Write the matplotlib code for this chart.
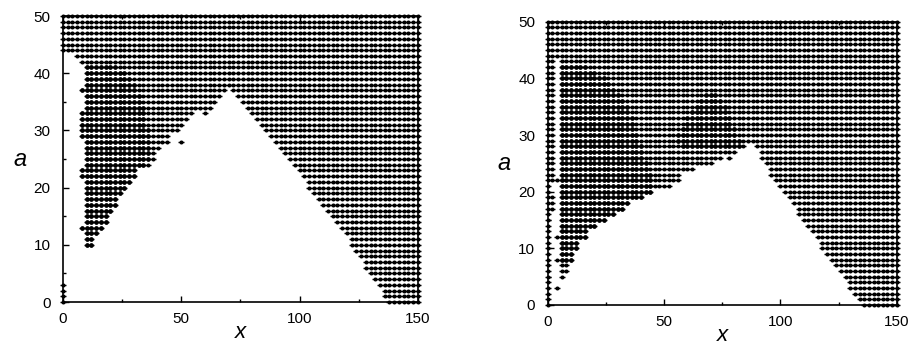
import numpy as np
import matplotlib.pyplot as plt
from matplotlib.ticker import MultipleLocator

plt.rcParams['font.family'] = ['Liberation Sans', 'DejaVu Sans']

X_STEP = 2
X_MAX = 150

# ---------------- left panel (row-by-row read of the filled x-range) ----------------
left_full_a = list(range(44, 51))
left_upper_a = [38, 39, 40, 41, 42, 43]
left_upper_lo = [10, 10, 10, 10, 8, 6]

left_wedge_a = list(range(10, 38))
left_wedge_lo = [10, 10, 10, 8, 10, 10, 10, 10, 10, 10, 10, 10, 8, 8,
                 10, 10, 10, 10, 10, 8, 8, 8, 8, 8, 10, 10, 10, 8]
left_wedge_hi = [12, 12, 14, 16, 18, 18, 20, 22, 22, 24, 26, 28, 30, 30,
                 36, 38, 38, 40, 44, 44, 48, 50, 52, 54, 62, 64, 66, 68]

left_main_a = list(range(0, 38))
left_main_lo = [138, 136, 136, 134, 132, 130, 128, 128, 126, 124, 122, 122, 120,
                118, 116, 114, 112, 110, 108, 106, 104, 104, 102, 100, 98, 96,
                94, 92, 90, 88, 86, 84, 82, 80, 78, 76, 74, 72]

left_extra_x = [0, 0, 0, 0, 50, 60]
left_extra_a = [0, 1, 2, 3, 28, 33]

# darker (overlapping) patch on the left panel
left_dark_a = list(range(10, 42))
left_dark_lo = left_wedge_lo + [10, 10, 10, 10]
left_dark_hi = [12, 12, 14, 16, 18, 18, 20, 22, 22, 24, 26, 28, 30, 30,
                34, 36, 36, 36, 36, 36, 36, 34, 34, 34, 34, 32, 32, 30,
                30, 28, 26, 22]

# ---------------- right panel ----------------
right_full_a = list(range(44, 51))
right_upper_a = list(range(29, 44))
right_upper_lo = 6
right_col0_a = list(range(0, 44))
right_col2_a = [17, 18, 19] + list(range(22, 44))

right_wedge_a = list(range(5, 29))
right_wedge_lo = [6, 6, 6, 4, 6, 6, 6, 4, 6, 6, 6, 6, 6, 6, 6, 6, 6, 4, 6, 6, 6, 6, 6, 6]
right_wedge_hi = [6, 8, 8, 10, 10, 12, 12, 16, 16, 20, 24, 28, 32, 34, 40, 44, 52,
                  56, 56, 62, 70, 74, 80, 84]

right_main_a = list(range(0, 29))
right_main_lo = [136, 134, 132, 130, 130, 128, 126, 124, 122, 120, 118, 118, 116,
                 114, 112, 110, 108, 108, 106, 104, 102, 100, 98, 96, 96, 94, 92, 92, 90]

right_extra_x = [4, 78]
right_extra_a = [3, 26]

# darker (overlapping) patches on the right panel
right_dark_a = list(range(8, 43))
right_dark_hi = [10, 10, 12, 12, 16, 16, 20, 24, 28, 32, 34, 40, 44, 44, 44,
                 44, 42, 42, 40, 40, 40, 38, 38, 36, 36, 36, 34, 34, 32, 30,
                 28, 26, 24, 20, 16]
right_hump_a = [28, 29, 30, 31, 32, 33, 34, 35, 36, 37]
right_hump_lo = [58, 56, 56, 58, 60, 60, 62, 64, 66, 68]
right_hump_hi = [82, 82, 80, 80, 78, 78, 76, 76, 74, 72]


def seg(xs, ys, lo, hi, a):
    for x in range(lo, hi + 1, X_STEP):
        xs.append(x)
        ys.append(a)


def left_points():
    xs, ys = [], []
    for a in left_full_a:
        seg(xs, ys, 0, X_MAX, a)
    for a, lo in zip(left_upper_a, left_upper_lo):
        seg(xs, ys, lo, X_MAX, a)
    for a, lo, hi in zip(left_wedge_a, left_wedge_lo, left_wedge_hi):
        seg(xs, ys, lo, hi, a)
    for a, lo in zip(left_main_a, left_main_lo):
        seg(xs, ys, lo, X_MAX, a)
    xs += left_extra_x
    ys += left_extra_a
    return xs, ys


def left_dark():
    xs, ys = [], []
    for a, lo, hi in zip(left_dark_a, left_dark_lo, left_dark_hi):
        seg(xs, ys, lo, hi, a)
    return xs, ys


def right_points():
    xs, ys = [], []
    for a in right_full_a:
        seg(xs, ys, 0, X_MAX, a)
    for a in right_upper_a:
        seg(xs, ys, right_upper_lo, X_MAX, a)
    for a in right_col0_a:
        xs.append(0); ys.append(a)
    for a in right_col2_a:
        xs.append(2); ys.append(a)
    for a, lo, hi in zip(right_wedge_a, right_wedge_lo, right_wedge_hi):
        seg(xs, ys, lo, hi, a)
    for a, lo in zip(right_main_a, right_main_lo):
        seg(xs, ys, lo, X_MAX, a)
    xs += right_extra_x
    ys += right_extra_a
    return xs, ys


def right_dark():
    xs, ys = [], []
    for a, hi in zip(right_dark_a, right_dark_hi):
        seg(xs, ys, 6, hi, a)
    for a, lo, hi in zip(right_hump_a, right_hump_lo, right_hump_hi):
        seg(xs, ys, lo, hi, a)
    return xs, ys


fig = plt.figure(figsize=(9.1, 3.48), dpi=100)
ax1 = fig.add_axes([0.0692, 0.132, 0.390, 0.822])
ax2 = fig.add_axes([0.602, 0.1236, 0.3835, 0.814])

panels = ((ax1, left_points(), left_dark()), (ax2, right_points(), right_dark()))
for ax, (xs, ys), (dx, dy) in panels:
    # each grid point: small dot plus a short horizontal dash
    ax.plot(xs, ys, ls='none', marker='o', ms=2.9, mew=0, color='black', clip_on=False)
    ax.plot(xs, ys, ls='none', marker='_', ms=3.8, mew=1.0, color='black', clip_on=False)
    ax.plot(dx, dy, ls='none', marker='o', ms=3.3, mew=0, color='black', clip_on=False)
    ax.set_xlim(0, 150)
    ax.set_ylim(0, 50)
    ax.xaxis.set_major_locator(MultipleLocator(50))
    ax.xaxis.set_minor_locator(MultipleLocator(25))
    ax.yaxis.set_major_locator(MultipleLocator(10))
    ax.yaxis.set_minor_locator(MultipleLocator(5))
    ax.tick_params(which='both', direction='in', top=True, right=True, labelsize=11, width=1)
    ax.tick_params(which='major', length=4)
    ax.tick_params(which='minor', length=2)
    ax.tick_params(axis='y', pad=9)
    ax.tick_params(axis='x', pad=7)
    for s in ax.spines.values():
        s.set_linewidth(1.2)
    ax.set_xlabel('x', fontsize=16, style='italic', labelpad=-3)
    ax.set_ylabel('a', fontsize=17, style='italic', rotation=0, labelpad=10, va='center')

fig.savefig('out.png', dpi=100)
